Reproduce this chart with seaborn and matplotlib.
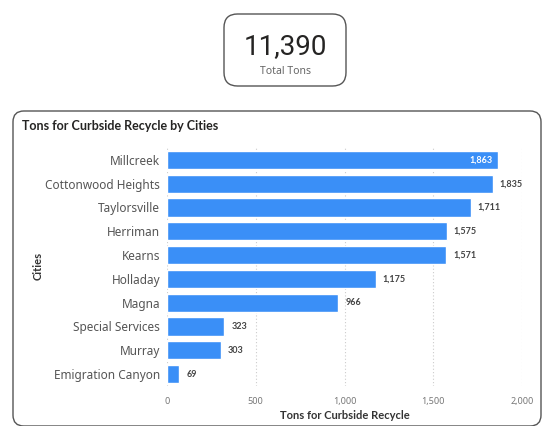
import matplotlib
matplotlib.use("Agg")
import matplotlib.pyplot as plt
from matplotlib.patches import FancyBboxPatch
import seaborn as sns
import pandas as pd

cities = ["Millcreek", "Cottonwood Heights", "Taylorsville", "Herriman", "Kearns",
          "Holladay", "Magna", "Special Services", "Murray", "Emigration Canyon"]
tons = [1863, 1835, 1711, 1575, 1571, 1175, 966, 323, 303, 69]
x_ticks = [0, 500, 1000, 1500, 2000]
total_label = "11,390"

sns.set_theme(style="white")
plt.rcParams['font.family'] = ['Noto Sans', 'DejaVu Sans']
BOLD = ["Lato", "DejaVu Sans"]

W, H = 543, 426
fig = plt.figure(figsize=(W / 100, H / 100), dpi=100)

def fx(px):
    return px / W

def fy(py):
    return 1 - py / H

# KPI card
card = FancyBboxPatch((fx(224), fy(86)), fx(346) - fx(224), fy(14) - fy(86),
                      boxstyle="round,pad=0,rounding_size=0.025",
                      transform=fig.transFigure, facecolor="none",
                      edgecolor="#555555", linewidth=1.0, mutation_aspect=W / H, zorder=-1)
fig.patches.append(card)
fig.text(fx(285), fy(47), total_label, ha="center", va="center", fontsize=20,
         color="#252423", family=["Roboto", "DejaVu Sans"])
fig.text(fx(285), fy(72), "Total Tons", ha="center", va="center", fontsize=7.5, color="#666666")

# Chart panel
panel = FancyBboxPatch((fx(13), fy(426)), fx(541) - fx(13), fy(111) - fy(426),
                       boxstyle="round,pad=0,rounding_size=0.02",
                       transform=fig.transFigure, facecolor="none",
                       edgecolor="#555555", linewidth=1.0, mutation_aspect=W / H, zorder=-1)
fig.patches.append(panel)
fig.text(fx(22), fy(126), "Tons for Curbside Recycle by Cities", ha="left", va="center",
         fontsize=9, color="#252423", fontweight="bold", family=BOLD)

df = pd.DataFrame({"City": cities, "Tons": tons})

ax = fig.add_axes([fx(167), fy(386), fx(522) - fx(167), fy(148) - fy(386)])
ax.patch.set_alpha(0)
sns.barplot(data=df, y="City", x="Tons", orient="h", color="#3a8ff7", width=0.76,
            saturation=1, ax=ax, zorder=2)

ax.set_xlim(0, 2000)
ax.set_ylim(len(cities) - 0.5, -0.5)
ax.set_xticks(x_ticks)
ax.set_xticklabels([f"{v:,}" for v in x_ticks], fontsize=6.5, color="#777777")
ax.tick_params(axis="y", labelsize=8.5, labelcolor="#555555", length=0, pad=5)
ax.tick_params(axis="x", length=0, pad=8)
for v in x_ticks:
    ax.axvline(v, color="#cccccc", linestyle=(0, (1, 2)), linewidth=0.8, zorder=1)
for s in ax.spines.values():
    s.set_visible(False)

ax.set_xlabel("Tons for Curbside Recycle", fontsize=8, color="#333333", labelpad=3,
              fontweight="bold", family=BOLD)
ax.set_ylabel("")
fig.text(fx(38), fy(266), "Cities", rotation=90, ha="center", va="center",
         fontsize=8, color="#333333", fontweight="bold", family=BOLD)

for i, (c, v) in enumerate(zip(cities, tons)):
    lbl = f"{v:,}"
    if v >= 1850:
        ax.text(v - 30, i, lbl, ha="right", va="center", fontsize=6.5,
                fontweight="bold", color="white", zorder=3, family=BOLD)
    else:
        ax.text(v + 40, i, lbl, ha="left", va="center", fontsize=6.5,
                fontweight="bold", color="#444444", zorder=3, family=BOLD)

fig.savefig("out.png", dpi=100)
